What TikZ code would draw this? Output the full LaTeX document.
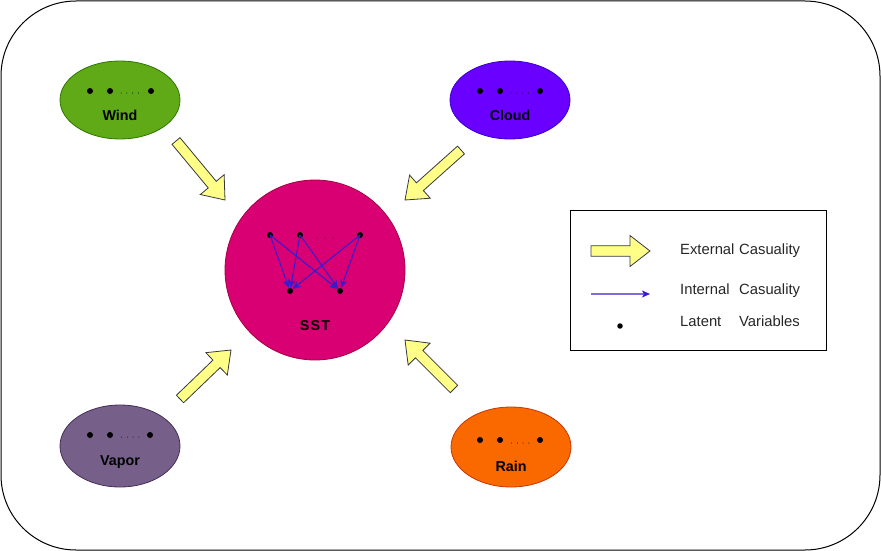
\documentclass[tikz,border=0pt]{standalone}
\usepackage{fontspec}
\setmainfont{Liberation Sans}
\usetikzlibrary{calc,shapes.geometric,arrows.meta}
\definecolor{windf}{HTML}{60A917}\definecolor{winds}{HTML}{2D7600}
\definecolor{cloudf}{HTML}{6A00FF}\definecolor{clouds}{HTML}{3700CC}
\definecolor{vaporf}{HTML}{76608A}\definecolor{vapors}{HTML}{432D57}
\definecolor{rainf}{HTML}{FA6800}\definecolor{rains}{HTML}{C73500}
\definecolor{sstf}{HTML}{D80073}\definecolor{ssts}{HTML}{A50040}
\definecolor{yelf}{HTML}{FFFF88}\definecolor{yels}{HTML}{36393D}
\definecolor{intblue}{HTML}{3A1CCC}
\newcommand\yarr[3]{%
  \coordinate (#3) at ($(#2)!20pt!(#1)$);
  \filldraw[yarrow] ($(#1)!5.2pt!90:(#2)$) -- ($(#3)!5.2pt!90:(#2)$) -- ($(#3)!15.5pt!90:(#2)$) -- (#2)
    -- ($(#3)!15.5pt!-90:(#2)$) -- ($(#3)!5.2pt!-90:(#2)$) -- ($(#1)!5.2pt!-90:(#2)$) -- cycle;}
\newcommand\smalldots[2]{\foreach \k in {0,1,2,3}{\fill ({#1+5.8*\k},#2) circle (0.5pt);}}
\begin{document}
\begin{tikzpicture}[x=1pt,y=-1pt,
  ext/.style={ellipse, draw, line width=0.8pt, minimum width=120pt, minimum height=78pt, inner sep=0pt},
  bigdot/.style={circle, fill=black, inner sep=0pt, minimum size=6pt},
  lbl/.style={font=\fontsize{14.3pt}{16pt}\selectfont\bfseries, inner sep=0pt},
  legtxt/.style={font=\fontsize{14.8pt}{17pt}\selectfont, anchor=west, inner sep=0pt, text=black!85},
  yarrow/.style={fill=yelf, draw=yels, line width=0.8pt, line join=miter},
  intarr/.style={draw=intblue, line width=1.1pt, -{Stealth[length=8pt,width=7pt,inset=2pt]}}]
\useasboundingbox (0,0) rectangle (881,551);
\draw[line width=1pt, rounded corners=75pt] (1,1) rectangle (880,550);

% external variables
\node[ext, fill=windf, draw=winds] (wind) at (120,100) {};
\node[ext, fill=cloudf, draw=clouds] (cloud) at (510,100) {};
\node[ext, fill=vaporf, draw=vapors, minimum height=82pt] (vapor) at (120,446) {};
\node[ext, fill=rainf, draw=rains, minimum height=80pt] (rain) at (511,447) {};

\node[bigdot] (w1) at (90,91) {}; \node[bigdot] (w2) at (110,91) {}; \node[bigdot] (w3) at (151,91) {};
\smalldots{121}{93}
\node[lbl] (wl) at (120,115) {Wind};
\node[bigdot] (c1) at (480,91) {}; \node[bigdot] (c2) at (500,91) {}; \node[bigdot] (c3) at (540,91) {};
\smalldots{511}{93}
\node[lbl] (cl) at (510,115) {Cloud};
\node[bigdot] (v1) at (90,435) {}; \node[bigdot] (v2) at (110,435) {}; \node[bigdot] (v3) at (150,435) {};
\smalldots{121.5}{437}
\node[lbl] (vl) at (120,462) {Vapor};
\node[bigdot] (r1) at (480,440) {}; \node[bigdot] (r2) at (500,440) {}; \node[bigdot] (r3) at (540,440) {};
\smalldots{511.5}{443}
\node[lbl] (rl) at (511,466) {Rain};

% SST
\node[circle, draw=ssts, fill=sstf, line width=0.8pt, minimum size=180pt, inner sep=0pt] (sst) at (315,270) {};
\node[bigdot] (t1) at (270,235) {}; \node[bigdot] (t2) at (300,235) {}; \node[bigdot] (t3) at (360,235) {};
\foreach \k in {0,1,2}{\fill ({317+8*\k},238) circle (0.5pt);}
\node[bigdot] (b1) at (290,291) {}; \node[bigdot] (b2) at (340,291) {};
\foreach \s in {t1,t2,t3}{\foreach \e in {b1,b2}{\draw[intarr] (\s.center) -- (\e);}}
\node[lbl] (sstl) at (315,326) {S\kern1.2pt S\kern1.2pt T};

% external causality arrows
\coordinate (wa1) at (176,141); \coordinate (wa2) at (225,200);
\coordinate (ca1) at (461,150); \coordinate (ca2) at (405,200);
\coordinate (va1) at (180,399); \coordinate (va2) at (231,350);
\coordinate (ra1) at (454,389); \coordinate (ra2) at (405,340);
\yarr{wa1}{wa2}{wab}
\yarr{ca1}{ca2}{cab}
\yarr{va1}{va2}{vab}
\yarr{ra1}{ra2}{rab}

% legend
\node[draw, line width=0.9pt, minimum width=256pt, minimum height=140pt, inner sep=0pt] (legend) at (698,280) {};
\coordinate (la1) at (591,251); \coordinate (la2) at (650,251);
\yarr{la1}{la2}{lab}
\node[legtxt] (lt1) at (680,251) {\makebox[59pt][l]{External}Casuality};
\coordinate (lb1) at (591,294); \coordinate (lb2) at (650,294);
\draw[draw=intblue!65, line width=1.1pt, -{Stealth[length=8pt,width=7pt,inset=2pt,color=intblue]}] (lb1) -- (lb2);
\node[legtxt] (lt2) at (680,291) {\makebox[59pt][l]{Internal}Casuality};
\node[bigdot, minimum size=5.5pt] (ld) at (620,326) {};
\node[legtxt] (lt3) at (680,321) {\makebox[59pt][l]{Latent}Variables};
\end{tikzpicture}
\end{document}
